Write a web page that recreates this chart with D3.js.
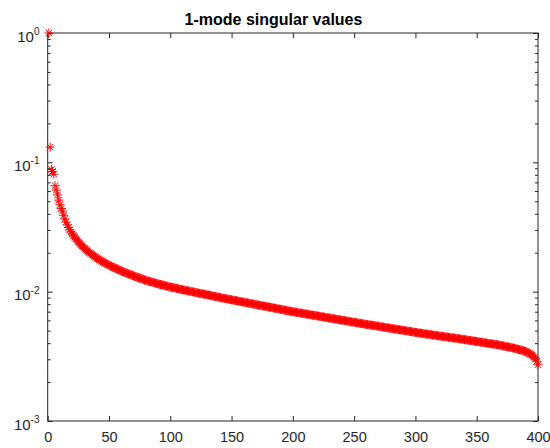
<!DOCTYPE html>
<html>
<head>
<meta charset="utf-8">
<script src="https://cdn.jsdelivr.net/npm/d3@7"></script>
<style>
  html, body { margin: 0; padding: 0; background: #ffffff; }
  svg { display: block; font-family: "Liberation Sans", Arial, Helvetica, sans-serif; }
</style>
</head>
<body>
<svg id="chart" width="550" height="448"></svg>
<script>
// ---- data ----------------------------------------------------------------
const titleText = "1-mode singular values";

const xTickValues = [0, 50, 100, 150, 200, 250, 300, 350, 400];
const xDomain = [0, 400];

const yTickValues = [1e-3, 1e-2, 1e-1, 1];
const yTickExponents = ["-3", "-2", "-1", "0"];
const yMinorMultipliers = [2, 3, 4, 5, 6, 7, 8, 9];
const yDomain = [1e-3, 1];

// singular values of the mode-1 unfolding, index 1..400
const singularValues = [
  1.0, 0.131, 0.088, 0.085, 0.081, 0.066, 0.061, 0.056, 0.051, 0.047,
  0.044, 0.0420, 0.0390, 0.0365, 0.0345, 0.0328, 0.0314, 0.0301, 0.0290, 0.0280,
  0.02716, 0.02636, 0.02564, 0.02495, 0.02432, 0.02371, 0.02312, 0.02259, 0.02208, 0.02163,
  0.02118, 0.02080, 0.02042, 0.02004, 0.01973, 0.01941, 0.01910, 0.01875, 0.01845, 0.01820,
  0.01795, 0.01770, 0.01746, 0.01722, 0.01698, 0.01679, 0.01660, 0.01641, 0.01622, 0.01603,
  0.01585, 0.01570, 0.01552, 0.01538, 0.01521, 0.01507, 0.01489, 0.01476, 0.01459, 0.01445,
  0.01432, 0.01419, 0.01409, 0.01396, 0.01384, 0.01371, 0.01358, 0.01346, 0.01337, 0.01324,
  0.01315, 0.01303, 0.01294, 0.01282, 0.01274, 0.01265, 0.01253, 0.01245, 0.01233, 0.01225,
  0.01216, 0.01208, 0.01202, 0.01194, 0.01186, 0.01178, 0.01170, 0.01164, 0.01156, 0.01148,
  0.01143, 0.01135, 0.01130, 0.01122, 0.01117, 0.01112, 0.01104, 0.01099, 0.01091, 0.01086,
  0.01081, 0.01076, 0.01072, 0.01067, 0.01059, 0.01054, 0.01050, 0.01045, 0.01040, 0.01035,
  0.01030, 0.01026, 0.01021, 0.01016, 0.01012, 0.01007, 0.01002, 0.00998, 0.00993, 0.00989,
  0.00984, 0.00980, 0.00975, 0.00971, 0.00966, 0.00964, 0.00959, 0.00955, 0.00951, 0.00946,
  0.00942, 0.00938, 0.00933, 0.00929, 0.00925, 0.00920, 0.00916, 0.00912, 0.00908, 0.00904,
  0.00900, 0.00895, 0.00891, 0.00887, 0.00883, 0.00881, 0.00877, 0.00873, 0.00869, 0.00865,
  0.00861, 0.00857, 0.00855, 0.00851, 0.00847, 0.00843, 0.00839, 0.00836, 0.00834, 0.00830,
  0.00826, 0.00822, 0.00818, 0.00815, 0.00811, 0.00809, 0.00805, 0.00802, 0.00798, 0.00794,
  0.00791, 0.00787, 0.00785, 0.00782, 0.00778, 0.00774, 0.00771, 0.00769, 0.00766, 0.00762,
  0.00759, 0.00755, 0.00752, 0.00748, 0.00746, 0.00743, 0.00740, 0.00736, 0.00733, 0.00730,
  0.00726, 0.00724, 0.00721, 0.00718, 0.00715, 0.00711, 0.00708, 0.00706, 0.00703, 0.00700,
  0.00697, 0.00695, 0.00692, 0.00689, 0.00687, 0.00684, 0.00682, 0.00679, 0.00676, 0.00675,
  0.00671, 0.00668, 0.00667, 0.00664, 0.00661, 0.00659, 0.00656, 0.00655, 0.00652, 0.00649,
  0.00647, 0.00644, 0.00641, 0.00640, 0.00637, 0.00635, 0.00632, 0.00630, 0.00628, 0.00625,
  0.00622, 0.00621, 0.00618, 0.00615, 0.00614, 0.00611, 0.00608, 0.00607, 0.00604, 0.00601,
  0.00600, 0.00597, 0.00596, 0.00593, 0.00590, 0.00589, 0.00586, 0.00583, 0.00582, 0.00579,
  0.00577, 0.00575, 0.00573, 0.00571, 0.00569, 0.00568, 0.00565, 0.00562, 0.00561, 0.00558,
  0.00557, 0.00555, 0.00553, 0.00551, 0.00550, 0.00547, 0.00546, 0.00543, 0.00542, 0.00540,
  0.00537, 0.00536, 0.00533, 0.00532, 0.00530, 0.00528, 0.00526, 0.00524, 0.00522, 0.00520,
  0.00519, 0.00516, 0.00515, 0.00513, 0.00512, 0.00509, 0.00508, 0.00506, 0.00505, 0.00502,
  0.00500, 0.00499, 0.00497, 0.00495, 0.00493, 0.00492, 0.00490, 0.00488, 0.00486, 0.00484,
  0.00483, 0.00481, 0.00480, 0.00478, 0.00476, 0.00475, 0.00473, 0.00472, 0.00470, 0.00469,
  0.00468, 0.00466, 0.00465, 0.00462, 0.00461, 0.00460, 0.00458, 0.00457, 0.00455, 0.00454,
  0.00453, 0.00451, 0.00450, 0.00448, 0.00447, 0.00446, 0.00444, 0.00443, 0.00441, 0.00440,
  0.00439, 0.00437, 0.00436, 0.00434, 0.00433, 0.00432, 0.00430, 0.00429, 0.00427, 0.00426,
  0.00425, 0.00423, 0.00422, 0.00420, 0.00419, 0.00418, 0.00416, 0.00415, 0.00413, 0.00412,
  0.00410, 0.00409, 0.00407, 0.00406, 0.00405, 0.00404, 0.00402, 0.00401, 0.00399, 0.00398,
  0.00396, 0.00395, 0.00394, 0.00393, 0.00391, 0.00390, 0.00388, 0.00387, 0.00385, 0.00384,
  0.00382, 0.00380, 0.00378, 0.00377, 0.00375, 0.00373, 0.00372, 0.00370, 0.00368, 0.00366,
  0.00365, 0.00362, 0.00361, 0.00358, 0.00356, 0.00354, 0.00352, 0.00349, 0.00347, 0.00344,
  0.00340, 0.00337, 0.00333, 0.00328, 0.00323, 0.00317, 0.00310, 0.00301, 0.00290, 0.00272
];
const ranks = singularValues.map((_, i) => i + 1);

// ---- layout ----------------------------------------------------------------
const plot = { left: 47.7, right: 538, top: 33, bottom: 421 };
const axisColor = "#262626";
const markerColor = "#ff0000";

const svg = d3.select("#chart");

const x = d3.scaleLinear().domain(xDomain).range([plot.left, plot.right]);
const y = d3.scaleLog().domain(yDomain).range([plot.bottom, plot.top]);

const yMinorTicks = [];
yTickValues.slice(0, -1).forEach(d => yMinorMultipliers.forEach(m => yMinorTicks.push(d * m)));

// ---- axes ------------------------------------------------------------------
function styleAxis(g) {
  g.select(".domain").remove();
  g.selectAll(".tick line").attr("stroke", axisColor).attr("stroke-width", 1);
  g.selectAll(".tick text").attr("fill", axisColor);
}

// bottom, with labels
svg.append("g")
  .attr("transform", `translate(0,${plot.bottom})`)
  .call(d3.axisBottom(x).tickValues(xTickValues).tickSizeInner(-5).tickSizeOuter(0).tickPadding(11))
  .attr("font-family", null)
  .attr("font-size", 14.5)
  .call(styleAxis);

// top, ticks only
svg.append("g")
  .attr("transform", `translate(0,${plot.top})`)
  .call(d3.axisTop(x).tickValues(xTickValues).tickSizeInner(-5).tickSizeOuter(0).tickFormat(""))
  .call(styleAxis);

// left, major ticks with power-of-ten labels
const leftAxis = svg.append("g")
  .attr("transform", `translate(${plot.left},0)`)
  .call(d3.axisLeft(y).tickValues(yTickValues).tickSizeInner(-5).tickSizeOuter(0).tickFormat(""))
  .call(styleAxis);

leftAxis.selectAll(".tick text").remove();
leftAxis.selectAll(".tick").each(function (d) {
  const t = d3.select(this).append("text")
    .attr("x", -8.2)
    .attr("y", 8.3)
    .attr("text-anchor", "end")
    .attr("fill", axisColor)
    .attr("font-size", 15);
  t.append("tspan").text("10");
  t.append("tspan").attr("dy", -6.7).attr("font-size", 10).text(yTickExponents[yTickValues.indexOf(d)]);
});

// left minor ticks
svg.append("g")
  .attr("transform", `translate(${plot.left},0)`)
  .call(d3.axisLeft(y).tickValues(yMinorTicks).tickSizeInner(-3).tickSizeOuter(0).tickFormat(""))
  .call(styleAxis);

// right, major + minor ticks
svg.append("g")
  .attr("transform", `translate(${plot.right},0)`)
  .call(d3.axisRight(y).tickValues(yTickValues).tickSizeInner(-5).tickSizeOuter(0).tickFormat(""))
  .call(styleAxis);
svg.append("g")
  .attr("transform", `translate(${plot.right},0)`)
  .call(d3.axisRight(y).tickValues(yMinorTicks).tickSizeInner(-3).tickSizeOuter(0).tickFormat(""))
  .call(styleAxis);

// box
svg.append("rect")
  .attr("x", plot.left)
  .attr("y", plot.top)
  .attr("width", plot.right - plot.left)
  .attr("height", plot.bottom - plot.top)
  .attr("fill", "none")
  .attr("stroke", axisColor)
  .attr("stroke-width", 1);

// ---- markers (asterisk: plus overlaid with a cross) -------------------------
const r = 4.5, a = r * Math.SQRT1_2;
const asterisk = `M${-r},0H${r}M0,${-r}V${r}M${-a},${-a}L${a},${a}M${-a},${a}L${a},${-a}`;

svg.append("g")
  .attr("fill", "none")
  .attr("stroke", markerColor)
  .attr("stroke-width", 1)
  .selectAll("path")
  .data(ranks)
  .join("path")
  .attr("d", asterisk)
  .attr("transform", (k, i) => `translate(${x(k)},${y(singularValues[i])})`);

// ---- title -----------------------------------------------------------------
svg.append("text")
  .attr("x", 273.5)
  .attr("y", 25)
  .attr("text-anchor", "middle")
  .attr("font-size", 16)
  .attr("font-weight", "bold")
  .attr("fill", "#000000")
  .text(titleText);
</script>
</body>
</html>
